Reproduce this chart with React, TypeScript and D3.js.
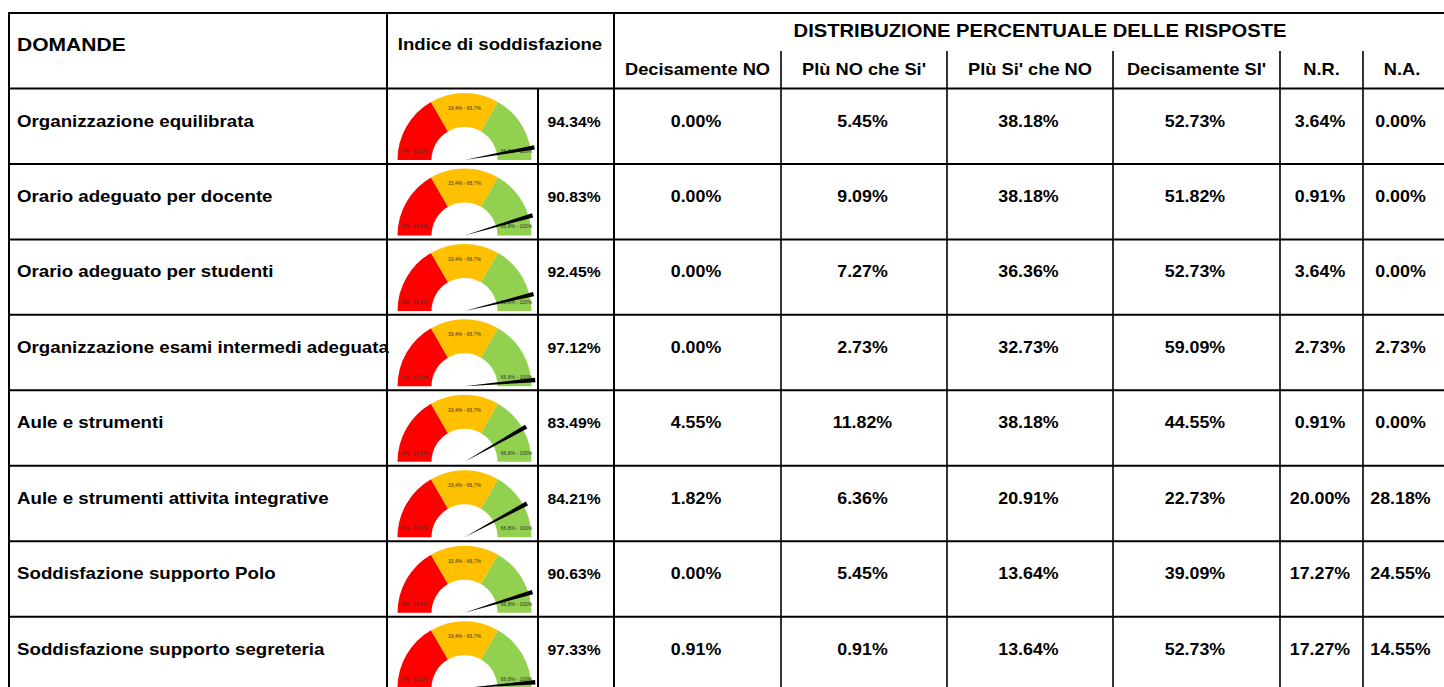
import React from 'react';
import * as d3 from 'd3';

const questions = [
  'Organizzazione equilibrata',
  'Orario adeguato per docente',
  'Orario adeguato per studenti',
  'Organizzazione esami intermedi adeguata',
  'Aule e strumenti',
  'Aule e strumenti attivita integrative',
  'Soddisfazione supporto Polo',
  'Soddisfazione supporto segreteria',
];
const satisfaction = [94.34, 90.83, 92.45, 97.12, 83.49, 84.21, 90.63, 97.33];
const decisamenteNo = [0.0, 0.0, 0.0, 0.0, 4.55, 1.82, 0.0, 0.91];
const piuNoCheSi = [5.45, 9.09, 7.27, 2.73, 11.82, 6.36, 5.45, 0.91];
const piuSiCheNo = [38.18, 38.18, 36.36, 32.73, 38.18, 20.91, 13.64, 13.64];
const decisamenteSi = [52.73, 51.82, 52.73, 59.09, 44.55, 22.73, 39.09, 52.73];
const nonRisponde = [3.64, 0.91, 3.64, 2.73, 0.91, 20.0, 17.27, 17.27];
const nonApplicabile = [0.0, 0.0, 0.0, 2.73, 0.0, 28.18, 24.55, 14.55];

const answerHeaders = ['Decisamente NO', "Plù NO che Si'", "Plù Si' che NO", "Decisamente SI'", 'N.R.', 'N.A.'];
const answerSeries = [decisamenteNo, piuNoCheSi, piuSiCheNo, decisamenteSi, nonRisponde, nonApplicabile];
const gaugeBands = ['0% - 33,3%', '33,4% - 66,7%', '66,8% - 100%'];
const gaugeColors = ['#FF0000', '#FFC000', '#92D050'];

const W = 1444;
const H = 687;
const FONT = "'Liberation Sans', Arial, sans-serif";
const SX = 1.12; // reference text looks horizontally stretched

// column edges
const X_LEFT = 9;
const X_GAUGE = 387;
const X_PCT = 538;
const X_DIST = 614;
const ansEdges = [614, 781, 947, 1113, 1280, 1363, 1441];
const Y_TOP = 13;
const Y_SUB = 51;
const Y_HEAD = 88.5;
const ROW_H = 75.45;

const fmt = (v: number) => `${v.toFixed(2)}%`;

function T({ x, y, size, anchor = 'start', children, fill = '#000', weight = 'bold' }: any) {
  return (
    <text
      transform={`translate(${x},${y}) scale(${SX},1)`}
      fontSize={size}
      fontWeight={weight}
      fontFamily={FONT}
      textAnchor={anchor}
      fill={fill}
    >
      {children}
    </text>
  );
}

function Gauge({ cx, cy, value }: { cx: number; cy: number; value: number }) {
  const rOuter = 67;
  const rInner = 33;
  const seg = d3.scaleLinear().domain([0, 3]).range([-Math.PI / 2, Math.PI / 2]);
  const arc = d3.arc<any>().innerRadius(rInner).outerRadius(rOuter);
  const angle = d3.scaleLinear().domain([0, 100]).range([Math.PI, 0]);
  const a = angle(value);
  const L = 71;
  const tx = cx + L * Math.cos(a);
  const ty = cy - L * Math.sin(a);
  const px = Math.sin(a) * 2.2;
  const py = Math.cos(a) * 2.2;
  const needle = `M${cx},${cy} L${tx + px},${ty + py} L${tx - px},${ty - py} Z`;
  const labelPos = [
    [cx - 50, cy - 7],
    [cx, cy - 50],
    [cx + 52, cy - 7],
  ];
  return (
    <g>
      {gaugeColors.map((c, i) => (
        <path
          key={i}
          transform={`translate(${cx},${cy})`}
          d={arc({ startAngle: seg(i), endAngle: seg(i + 1) }) as string}
          fill={c}
        />
      ))}
      {gaugeBands.map((b, i) => (
        <text
          key={b}
          x={labelPos[i][0]}
          y={labelPos[i][1]}
          fontSize={5}
          fontFamily={FONT}
          textAnchor="middle"
          fill="#333"
        >
          {b}
        </text>
      ))}
      <path d={needle} fill="#000" />
    </g>
  );
}

export default function App() {
  const rowY = d3.scaleBand<number>()
    .domain(d3.range(questions.length))
    .range([Y_HEAD, Y_HEAD + ROW_H * questions.length]);
  const bottom = H + 10;
  const lineW = 2;

  return (
    <svg width={W} height={H} style={{ position: 'absolute', left: 0, top: 0, background: '#fff' }}>
      <rect width={W} height={H} fill="#fff" />

      {/* rows */}
      {questions.map((q, i) => {
        const y0 = rowY(i) as number;
        return (
          <g key={q}>
            <T x={17} y={y0 + 38} size={16.7}>{q}</T>
            <Gauge cx={464.5} cy={y0 + 71.5} value={satisfaction[i]} />
            <T x={574} y={y0 + 38} size={14} anchor="middle">{fmt(satisfaction[i])}</T>
            {answerSeries.map((s, j) => (
              <T key={j} x={(ansEdges[j] + ansEdges[j + 1]) / 2 - 1.5} y={y0 + 38} size={15.9} anchor="middle">
                {fmt(s[i])}
              </T>
            ))}
          </g>
        );
      })}

      {/* headers */}
      <T x={17} y={51} size={18.8}>DOMANDE</T>
      <T x={500} y={50} size={16.6} anchor="middle">Indice di soddisfazione</T>
      <T x={1040} y={37} size={18} anchor="middle">DISTRIBUZIONE PERCENTUALE DELLE RISPOSTE</T>
      {answerHeaders.map((h, j) => (
        <T key={h} x={(ansEdges[j] + ansEdges[j + 1]) / 2} y={75} size={16.3} anchor="middle">{h}</T>
      ))}

      {/* grid lines */}
      <g stroke="#000" strokeWidth={lineW}>
        <line x1={X_LEFT} x2={W} y1={Y_TOP} y2={Y_TOP} />
        {d3.range(questions.length + 1).map((i) => {
          const y = Y_HEAD + i * ROW_H;
          return <line key={i} x1={X_LEFT} x2={W} y1={y} y2={y} />;
        })}
        <line x1={X_LEFT} x2={X_LEFT} y1={Y_TOP - 1} y2={bottom} />
        <line x1={X_GAUGE} x2={X_GAUGE} y1={Y_TOP - 1} y2={bottom} />
        <line x1={X_PCT} x2={X_PCT} y1={Y_HEAD} y2={bottom} />
        <line x1={X_DIST} x2={X_DIST} y1={Y_TOP - 1} y2={bottom} />
        {ansEdges.slice(1, 6).map((x) => (
          <line key={x} x1={x} x2={x} y1={Y_SUB} y2={bottom} strokeWidth={1.6} />
        ))}
      </g>
    </svg>
  );
}
